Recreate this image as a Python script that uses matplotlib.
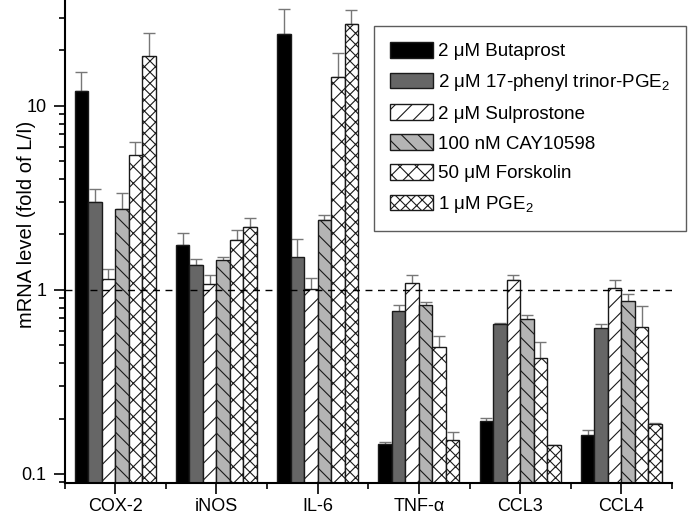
import matplotlib
matplotlib.use("Agg")
import matplotlib.pyplot as plt
import numpy as np
from matplotlib.ticker import LogLocator, NullFormatter, FixedLocator, FixedFormatter

plt.rcParams['font.family'] = ['Liberation Sans', 'DejaVu Sans']
plt.rcParams['mathtext.fontset'] = 'custom'
plt.rcParams['mathtext.rm'] = 'Liberation Sans'
plt.rcParams['mathtext.it'] = 'Liberation Sans:italic'
plt.rcParams['hatch.linewidth'] = 0.8

genes = ["COX-2", "iNOS", "IL-6", "TNF-α", "CCL3", "CCL4"]
treatments = ["2 μM Butaprost", "2 μM 17-phenyl trinor-PGE$_2$", "2 μM Sulprostone",
              "100 nM CAY10598", "50 μM Forskolin", "1 μM PGE$_2$"]

butaprost   = [12.0, 1.75, 24.6, 0.136, 0.185, 0.152]
phenyl      = [2.99, 1.36, 1.49, 0.762, 0.645, 0.609]
sulprostone = [1.13, 1.06, 1.00, 1.078, 1.124, 1.01]
cay10598    = [2.74, 1.44, 2.39, 0.812, 0.682, 0.858]
forskolin   = [5.36, 1.86, 14.3, 0.482, 0.417, 0.620]
pge2        = [18.5, 2.19, 27.9, 0.1435, 0.134, 0.177]

butaprost_cap   = [15.2, 2.04, 33.7, 0.149, 0.202, 0.174]
phenyl_cap      = [3.52, 1.47, 1.88, 0.826, 0.659, 0.651]
sulprostone_cap = [1.29, 1.21, 1.16, 1.21, 1.21, 1.13]
cay10598_cap    = [3.35, 1.51, 2.55, 0.861, 0.728, 0.955]
forskolin_cap   = [6.34, 2.12, 19.3, 0.558, 0.520, 0.812]
pge2_cap        = [24.8, 2.44, 33.2, 0.169, 0.143, 0.189]

series = [butaprost, phenyl, sulprostone, cay10598, forskolin, pge2]
caps = [butaprost_cap, phenyl_cap, sulprostone_cap, cay10598_cap, forskolin_cap, pge2_cap]

facecolors = ["#000000", "#666666", "#ffffff", "#b4b4b4", "#ffffff", "#ffffff"]
hatches = [None, None, "//", "\\\\", "xx", "xxx"]

W, H = 693, 514
fig = plt.figure(figsize=(W/100, H/100), dpi=100)
ax = fig.add_axes([64.5/W, 1 - 483/H, (672 - 64.5)/W, 483/H])

x = np.arange(len(genes))
w = 0.8 / 6
handles = []
for i, (vals, cp) in enumerate(zip(series, caps)):
    pos = x + (i - 2.5) * w
    vals = np.array(vals)
    up = np.array(cp) - vals
    ax.errorbar(pos, vals, yerr=[np.zeros_like(vals), up], fmt='none',
                ecolor='#777777', elinewidth=1.0, capsize=4, capthick=1.0, zorder=1)
    b = ax.bar(pos, vals, width=w, bottom=0.01, color=facecolors[i], edgecolor='#1a1a1a',
               linewidth=1.0, hatch=hatches[i], label=treatments[i], zorder=2)
    handles.append(b)

ax.set_yscale('log')
ax.set_ylim(0.0893, 37.5)
ax.set_xlim(-0.5, 5.5)
ax.axhline(1.0, color='black', linestyle=(0, (5, 4)), linewidth=1.0, zorder=3)

ax.yaxis.set_major_locator(FixedLocator([0.1, 1, 10]))
ax.yaxis.set_major_formatter(FixedFormatter(["0.1", "1", "10"]))
ax.yaxis.set_minor_locator(LogLocator(base=10, subs=np.arange(2, 10)))
ax.yaxis.set_minor_formatter(NullFormatter())

ax.set_xticks(x)
ax.set_xticklabels(genes)
ax.set_xticks(np.arange(-0.5, 6.0, 1.0), minor=True)

ax.tick_params(axis='both', which='major', direction='out', length=8, width=1.2, labelsize=13)
ax.tick_params(axis='both', which='minor', direction='out', length=4.5, width=1.2)
ax.tick_params(axis='x', which='major', pad=2.5)
ax.tick_params(axis='y', which='major', pad=5)

for s in ['top', 'right']:
    ax.spines[s].set_visible(False)
for s in ['left', 'bottom']:
    ax.spines[s].set_linewidth(1.5)

ax.set_ylabel("mRNA level (fold of L/I)", fontsize=14.5)
ax.yaxis.set_label_coords((36 - 64.5) / (672 - 64.5), (483 - 224) / 483)

leg = fig.legend(handles=handles, labels=treatments, loc='upper right',
                 bbox_to_anchor=(686/W, 1 - 26/H), bbox_transform=fig.transFigure,
                 fontsize=13.5, frameon=True, fancybox=False, edgecolor='#333333',
                 handlelength=2.28, handleheight=0.9, labelspacing=0.62,
                 borderpad=0.85, handletextpad=0.27, borderaxespad=0)
leg.get_frame().set_linewidth(1.0)

fig.savefig("out.png", dpi=100)
